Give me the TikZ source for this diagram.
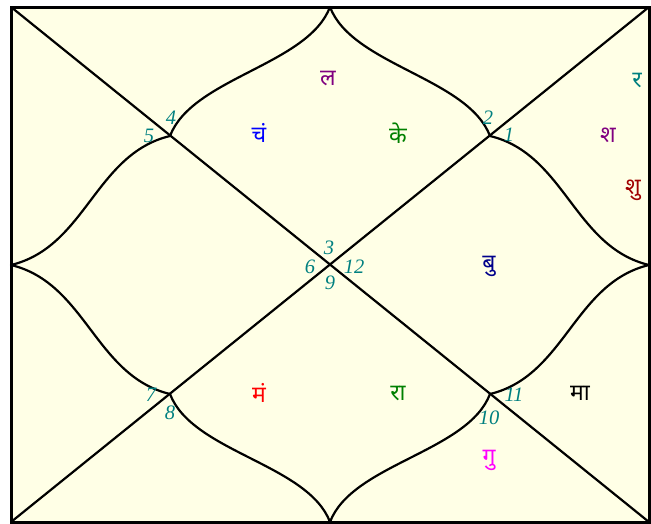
\documentclass[tikz,border=0pt]{standalone}
\usepackage{fontspec}
\setmainfont{Liberation Serif}
\newfontfamily\deva[Script=Devanagari]{Noto Sans}
\definecolor{bgc}{HTML}{FFFFE6}
\definecolor{numc}{HTML}{008080}
\definecolor{purp}{HTML}{800080}
\definecolor{grn}{HTML}{008000}
\definecolor{maroonc}{HTML}{A00000}
\definecolor{navyc}{HTML}{00008B}
\definecolor{mag}{HTML}{FF00FF}
\begin{document}
\begin{tikzpicture}[x=1pt,y=-1pt,
  num/.style={text=numc, font=\fontsize{20.5}{20.5}\selectfont\itshape, inner sep=0pt},
  pl/.style={font=\deva\fontsize{23}{23}\selectfont, inner sep=0pt},
  frame/.style={line width=3pt, line join=miter},
  inner/.style={line width=2.2pt, line join=round, line cap=round}]
\useasboundingbox (0,0) rectangle (651,523);
\fill[white] (0,0) rectangle (651,523);
\coordinate (tl) at (11,7);
\coordinate (tr) at (649,7);
\coordinate (bl) at (11,522);
\coordinate (br) at (649,522);
\coordinate (T) at (330,7);
\coordinate (R) at (649,265);
\coordinate (B) at (330,522);
\coordinate (L) at (11,265);
\coordinate (q1) at (490,136);
\coordinate (q2) at (170,136);
\coordinate (q3) at (170,394);
\coordinate (q4) at (490,394);
\fill[bgc] (tl) rectangle (br);
\draw[inner] (tl) -- (br);
\draw[inner] (bl) -- (tr);
\draw[inner] (T) .. controls +(22,58) and +(-22,-58) .. (q1)
  .. controls +(75,18) and +(-75,-18) .. (R)
  .. controls +(-75,18) and +(75,-18) .. (q4)
  .. controls +(-22,58) and +(22,-58) .. (B)
  .. controls +(-22,-58) and +(22,58) .. (q3)
  .. controls +(-75,-18) and +(75,18) .. (L)
  .. controls +(75,-18) and +(-75,18) .. (q2)
  .. controls +(22,-58) and +(-22,58) .. (T);
\draw[frame] (tl) rectangle (br);
% house numbers
\node[num] (h1) at (509,135) {1};
\node[num] (h2) at (488,118) {2};
\node[num] (h3) at (329,248) {3};
\node[num] (h4) at (171,118) {4};
\node[num] (h5) at (149,136) {5};
\node[num] (h6) at (310,267) {6};
\node[num] (h7) at (151,395) {7};
\node[num] (h8) at (170,413) {8};
\node[num] (h9) at (330,283) {9};
\node[num] (h10) at (489,418) {10};
\node[num] (h11) at (514,395) {11};
\node[num] (h12) at (354,267) {12};
% planets
\node[pl, text=purp] (pla) at (328,79) {ल};
\node[pl, text=blue] (plb) at (259,133) {चं};
\node[pl, text=grn] (plc) at (398,133) {के};
\node[pl, text=numc] (pld) at (637,80) {र};
\node[pl, text=purp] (ple) at (608,135) {श};
\node[pl, text=maroonc] (plf) at (633,190) {शु};
\node[pl, text=navyc] (plg) at (489,266) {बु};
\node[pl, text=red] (plh) at (259,393) {मं};
\node[pl, text=grn] (pli) at (398,393) {रा};
\node[pl, text=black] (plj) at (580,393) {मा};
\node[pl, text=mag] (plk) at (489,460) {गु};
\end{tikzpicture}
\end{document}
